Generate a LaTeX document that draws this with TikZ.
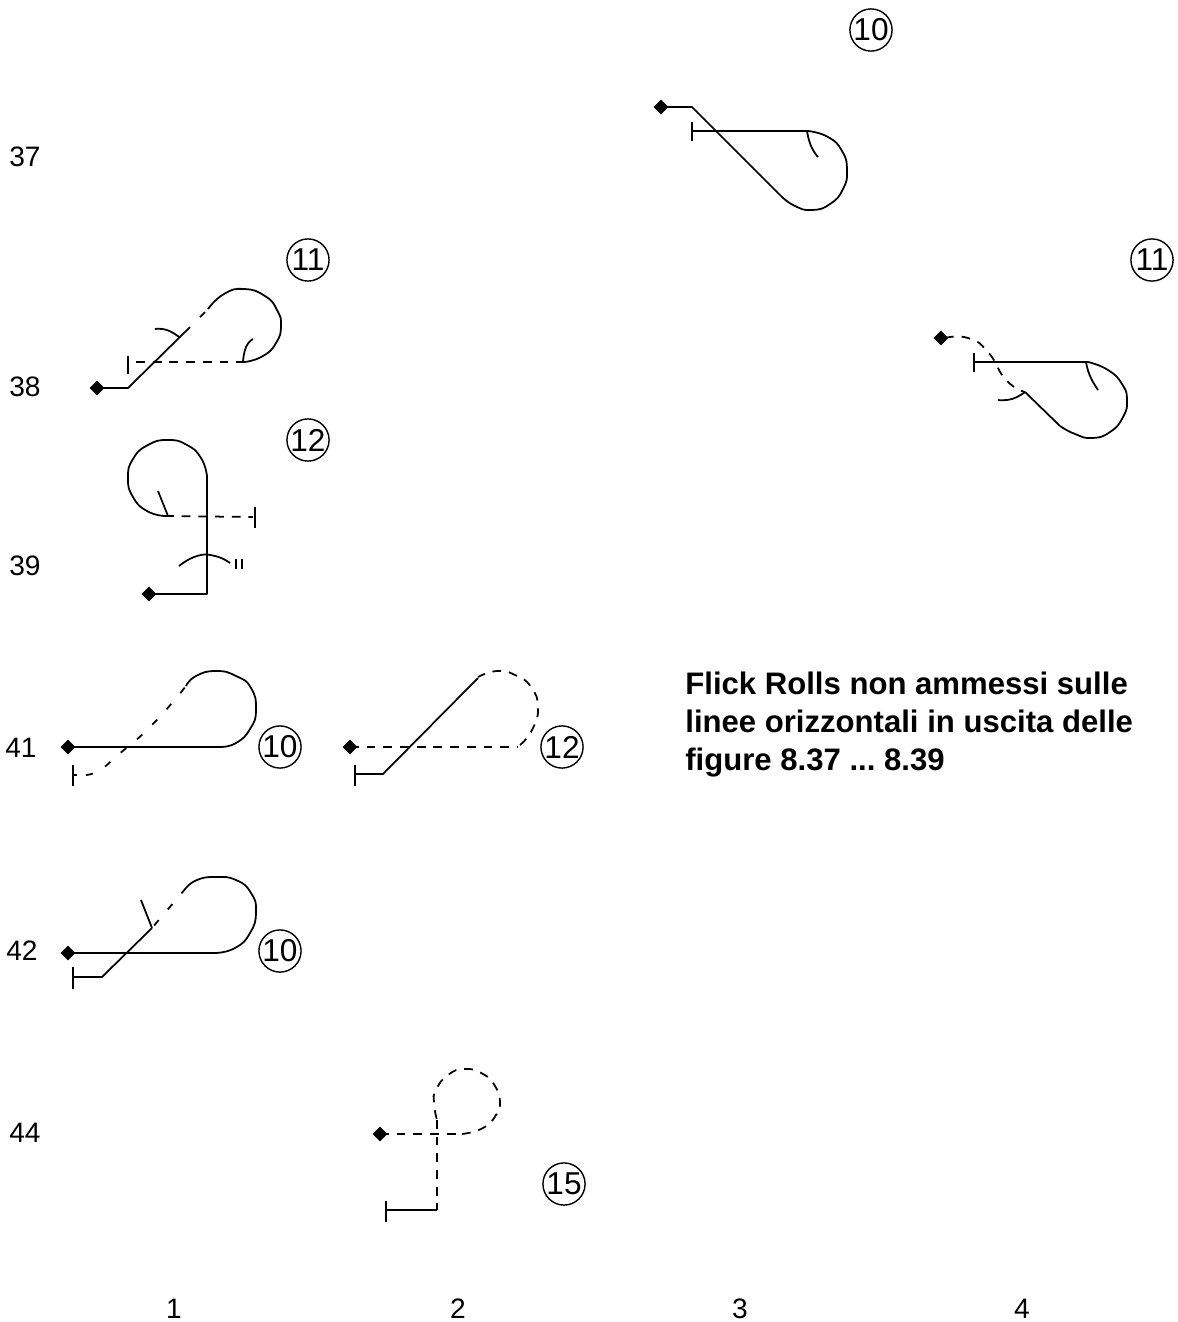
\documentclass[tikz,border=0pt]{standalone}
\usepackage{fontspec}
\setmainfont{Liberation Sans}
\usetikzlibrary{shapes.geometric}
\tikzset{
  x=0.02cm,y=-0.02cm,
  ln/.style={line width=1pt,black,line join=round},
  dsh/.style={ln,dash pattern=on 5pt off 4.5pt},
  dsd/.style={ln,dash pattern=on 4pt off 8pt},
  sm/.style={smooth,tension=0.9},
  pt/.style={diamond,aspect=1,fill=black,inner sep=0pt,minimum size=8.5pt},
  num/.style={circle,draw=black,line width=0.8pt,inner sep=0pt,minimum size=24pt,font=\fontsize{18}{18}\selectfont},
  lab/.style={font=\fontsize{16}{17}\selectfont,inner sep=0pt,anchor=base},
}
\begin{document}
\begin{tikzpicture}
\useasboundingbox (0,0) rectangle (1177,1322);
% labels
\node[lab] (l37) at (25,166) {37};
\node[lab] (l38) at (25,396) {38};
\node[lab] (l39) at (25,575) {39};
\node[lab] (l41) at (21,757) {41};
\node[lab] (l42) at (22,960) {42};
\node[lab] (l44) at (25,1142) {44};
\node[lab] (c1) at (174,1318) {1};
\node[lab] (c2) at (458,1318) {2};
\node[lab] (c3) at (740,1318) {3};
\node[lab] (c4) at (1022,1318) {4};
\node[num] (n1) at (871,30) {10};
\node[num] (n2) at (308,260) {11};
\node[num] (n3) at (308,440) {12};
\node[num] (n4) at (1152,260) {11};
\node[num] (n5) at (280,747) {10};
\node[num] (n6) at (562,747) {12};
\node[num] (n7) at (280,951) {10};
\node[num] (n8) at (564,1184) {15};
\node[anchor=north west,inner sep=0pt,align=left,font=\fontsize{17.7}{21.6}\selectfont\bfseries\frenchspacing] (txt) at (685,672) {Flick Rolls non ammessi sulle\\linee orizzontali in uscita delle\\figure 8.37 ... 8.39};
% start dots
\node[pt] (a) at (661,107) {};
\node[pt] (b) at (97,388) {};
\node[pt] (c) at (149,594) {};
\node[pt] (d) at (941,338) {};
\node[pt] (e) at (68,747) {};
\node[pt] (f) at (350,747) {};
\node[pt] (g) at (68,953) {};
\node[pt] (h) at (380,1134) {};
% fig 37
\draw[ln] (a.center) -- (692,107) -- (781,196);
\draw[ln] plot[sm] coordinates {(781,196)(795,206)(812,210)(830,204)(843,189)(847,170)(842,151)(828,137)(808,131)};
\draw[ln] (808,131) -- (692,131);
\draw[ln] (692,122) -- (692,141);
\draw[ln] plot[sm] coordinates {(807,131)(811,146)(818,157)};
% fig 38
\draw[ln] (b.center) -- (128,388) -- (185,332);
\draw[dsd] (185,332) -- (208,309);
\draw[ln] plot[sm] coordinates {(208,309)(224,294)(244,289)(265,296)(277,310)(281,326)(276,343)(263,356)(245,362)};
\draw[dsh] (245,362) -- (130,362);
\draw[ln] (128,356) -- (128,374);
\draw[ln] plot[sm] coordinates {(243,362)(246,347)(253,339)};
\draw[ln] plot[sm] coordinates {(155,329)(167,330)(179,337)};
% fig 39
\draw[ln] (c.center) -- (207,594) -- (207,476);
\draw[ln] plot[sm] coordinates {(207,476)(201,458)(187,445)(168,440)(148,445)(133,459)(128,478)(133,497)(147,511)(165,516)};
\draw[dsh] (165,516) -- (253,517);
\draw[ln] (255,507) -- (255,528);
\draw[ln] (168,516) -- (158,491);
\draw[ln] plot[sm] coordinates {(179,566)(197,556)(215,556)(230,563)};
\draw[line width=0.8pt] (236,559) -- (236,569) (242,559) -- (242,569);
% fig 11 right
\draw[dsh] plot[sm] coordinates {(945,338)(968,338)(988,352)(1006,380)(1025,392)};
\draw[ln] (1025,392) -- (1060,426);
\draw[ln] plot[sm] coordinates {(1060,426)(1075,434)(1092,438)(1110,432)(1123,417)(1127,400)(1122,384)(1108,370)(1088,362)};
\draw[ln] (1088,362) -- (974,362);
\draw[ln] (974,353) -- (974,372);
\draw[ln] plot[sm] coordinates {(1086,362)(1090,376)(1098,390)};
\draw[ln] plot[sm] coordinates {(998,400)(1012,399)(1025,392)};
% fig 41 left
\draw[ln] (e.center) -- (220,747);
\draw[ln] plot[sm] coordinates {(220,747)(236,743)(250,729)(256,710)(251,688)(236,676)(216,671)(196,676)(186,686)};
\draw[dsd] plot[sm] coordinates {(86,775)(100,770)(118,755)(152,725)(186,686)};
\draw[ln] (73,765) -- (73,786);
\draw[ln] (73,775) -- (77,775);
% fig 41 right
\draw[dsh] (f.center) -- (518,747);
\draw[dsh] plot[sm] coordinates {(520,745)(532,730)(538,708)(531,687)(515,675)(497,671)(478,677)};
\draw[ln] (478,678) -- (383,774) -- (356,774);
\draw[ln] (355,765) -- (355,786);
% fig 42
\draw[ln] (g.center) -- (215,953);
\draw[ln] plot[sm] coordinates {(215,953)(235,948)(250,933)(256,912)(251,893)(236,880)(215,877)(197,880)(186,888)};
\draw[dsd] (186,888) -- (152,928);
\draw[ln] (152,928) -- (102,977) -- (73,977);
\draw[ln] (73,967) -- (73,989);
\draw[ln] (152,928) -- (141,900);
% fig 44
\draw[dsh] (h.center) -- (462,1134);
\draw[dsh] plot[sm] coordinates {(462,1134)(483,1128)(496,1115)(500,1102)(495,1086)(483,1074)(465,1069)(448,1075)(436,1090)(434,1103)(437,1120)};
\draw[dsh] (437,1120) -- (437,1210);
\draw[ln] (437,1210) -- (386,1210);
\draw[ln] (386,1201) -- (386,1222);
\end{tikzpicture}
\end{document}
